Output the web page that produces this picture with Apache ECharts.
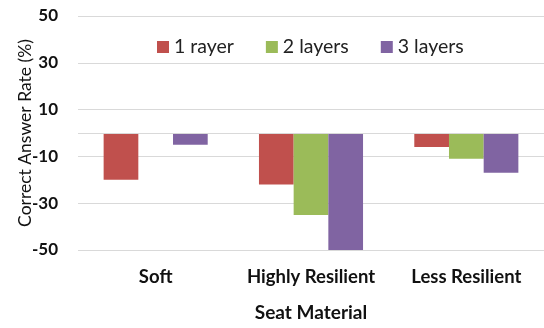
<!DOCTYPE html>
<html>
<head>
<meta charset="utf-8">
<script src="https://cdn.jsdelivr.net/npm/echarts@6/dist/echarts.min.js"></script>
<style>html,body{margin:0;padding:0;background:#fff}#c{width:544px;height:328px}</style>
</head>
<body>
<div id="c"></div>
<script>
var categories = ['Soft', 'Highly Resilient', 'Less Resilient'];
var seriesNames = ['1 rayer', '2 layers', '3 layers'];
var oneLayer = [-20, -22, -6];
var twoLayers = [0, -35, -11];
var threeLayers = [-5, -50, -17];
var yTicks = [-50, -30, -10, 10, 30, 50];
var colors = ['#C0504D', '#9BBB59', '#8064A2'];

var FONT = 'Lato';
var chart = echarts.init(document.getElementById('c'), null, {renderer: 'canvas'});
var data = [oneLayer, twoLayers, threeLayers];
var series = data.map(function (d, i) {
  var s = {
    name: seriesNames[i],
    type: 'bar',
    data: d,
    barGap: '0%',
    barCategoryGap: '33%',
    itemStyle: {color: colors[i]}
  };
  if (i === 0) {
    s.markLine = {
      silent: true,
      symbol: 'none',
      label: {show: false},
      lineStyle: {color: '#d9d9d9', width: 1, type: 'solid'},
      data: [{yAxis: 0}]
    };
  }
  return s;
});

chart.setOption({
  animation: false,
  color: colors,
  textStyle: {fontFamily: FONT},
  legend: {
    data: seriesNames,
    left: 152,
    top: 32,
    itemWidth: 12,
    itemHeight: 12,
    itemGap: 32,
    icon: 'rect',
    textStyle: {fontFamily: FONT, fontSize: 19.5, color: '#222'}
  },
  grid: {left: 78, right: 0, top: 16, bottom: 78},
  xAxis: {
    type: 'category',
    data: categories,
    axisLine: {show: false, onZero: false},
    axisTick: {show: false},
    axisLabel: {interval: 0, fontFamily: FONT, fontSize: 18.5, fontWeight: 'bold', color: '#111', margin: 18},
    name: 'Seat Material',
    nameLocation: 'middle',
    nameGap: 53,
    nameMoveOverlap: false,
    nameTextStyle: {fontFamily: FONT, fontSize: 19, fontWeight: 'bold', color: '#111'}
  },
  yAxis: {
    type: 'value',
    min: yTicks[0],
    max: yTicks[yTicks.length - 1],
    interval: 20,
    axisLine: {show: false},
    axisTick: {show: false},
    splitLine: {lineStyle: {color: '#d9d9d9', width: 1}},
    axisLabel: {fontFamily: FONT, fontSize: 17, fontWeight: 'bold', color: '#111', margin: 20},
    name: 'Correct Answer Rate (%)',
    nameLocation: 'middle',
    nameGap: 44,
    nameMoveOverlap: false,
    nameTextStyle: {fontFamily: FONT, fontSize: 17.5, color: '#111'}
  },
  series: series
});
</script>
</body>
</html>
